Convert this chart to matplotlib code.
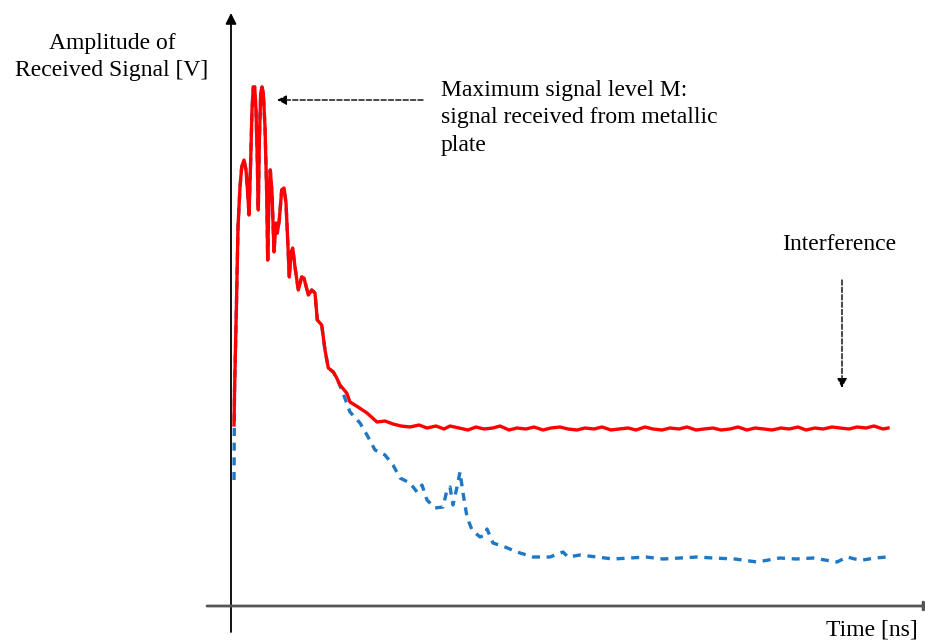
import numpy as np
import matplotlib.pyplot as plt

# Reflected signal from metallic plate (red) and signal without plate (blue dashed)
# time in ns, amplitude in V
head_t = [0.30, 0.35, 0.57, 0.70, 0.90, 1.07, 1.30, 1.50, 1.67, 1.80, 1.97, 2.10, 2.23,
          2.37, 2.50, 2.63, 2.73, 2.83, 2.97, 3.10, 3.23, 3.40, 3.57, 3.67, 3.80, 3.93,
          4.10, 4.30, 4.50, 4.63, 4.83, 5.07, 5.30, 5.50, 5.70, 5.83, 6.00, 6.17, 6.40,
          6.73, 7.07, 7.30, 7.73, 8.07, 8.40, 8.63, 9.07, 9.40, 9.73, 10.23, 10.57]
head_a = [1.81, 2.13, 3.13, 3.79, 4.19, 4.39, 4.46, 4.36, 4.13, 3.91, 4.46, 4.96, 5.19,
          5.19, 4.96, 4.46, 3.96, 4.63, 5.13, 5.19, 5.13, 4.79, 4.13, 3.46, 4.13, 4.36,
          4.13, 3.54, 3.83, 3.73, 3.86, 4.16, 4.18, 4.03, 3.59, 3.29, 3.53, 3.58, 3.39,
          3.16, 3.29, 3.28, 3.11, 3.16, 3.13, 2.86, 2.81, 2.56, 2.38, 2.34, 2.28]

red_tail_t = [10.9, 11.57, 11.9, 12.7, 13.6, 14.6, 15.4, 16.2, 17.0, 17.9, 18.8, 19.6,
              20.5, 21.3, 21.9, 22.8, 23.7, 24.5, 25.3, 26.2, 26.9, 27.8, 28.6, 29.5,
              30.3, 31.2, 32.0, 32.9, 33.7, 34.6, 35.4, 36.3, 37.1, 38.0, 38.8, 39.7,
              40.5, 41.4, 42.2, 43.1, 43.9, 44.8, 45.6, 46.5, 47.3, 48.2, 49.0, 49.9,
              50.7, 51.6, 52.4, 53.3, 54.1, 55.0, 55.8, 56.7, 57.5, 58.4, 59.2, 60.1,
              60.9, 61.8, 62.6, 63.5, 64.3, 65.2, 65.7]
red_tail_a = [2.21, 2.13, 2.04, 1.99, 1.93, 1.84, 1.85, 1.82, 1.80, 1.79, 1.81, 1.78,
              1.80, 1.77, 1.80, 1.78, 1.76, 1.79, 1.77, 1.78, 1.80, 1.76, 1.78, 1.77,
              1.79, 1.76, 1.78, 1.79, 1.77, 1.76, 1.78, 1.77, 1.79, 1.76, 1.77, 1.78,
              1.76, 1.79, 1.77, 1.76, 1.78, 1.77, 1.79, 1.76, 1.77, 1.78, 1.76, 1.77,
              1.79, 1.76, 1.78, 1.77, 1.76, 1.78, 1.77, 1.79, 1.76, 1.78, 1.77, 1.79,
              1.78, 1.77, 1.79, 1.78, 1.80, 1.77, 1.78]

blue_start_a = 1.26
blue_tail_t = [11.2, 11.9, 12.9, 13.6, 14.4, 15.4, 16.2, 16.9, 17.9, 18.6, 19.1, 19.6,
               20.4, 21.2, 21.6, 21.9, 22.2, 22.6, 22.9, 23.2, 23.6, 24.1, 24.9, 25.4,
               25.6, 26.2, 27.4, 28.6, 30.2, 31.9, 33.2, 33.7, 34.9, 36.6, 38.2, 39.9,
               41.5, 43.2, 44.9, 46.6, 48.2, 50.4, 52.6, 54.9, 56.5, 58.2, 59.4, 60.6,
               61.6, 62.4, 63.2, 64.4, 65.6]
blue_tail_a = [2.13, 1.94, 1.83, 1.71, 1.56, 1.51, 1.41, 1.28, 1.23, 1.14, 1.21, 1.06,
               0.98, 0.99, 1.16, 1.19, 1.01, 1.19, 1.34, 1.13, 0.89, 0.76, 0.69, 0.71,
               0.77, 0.63, 0.59, 0.54, 0.49, 0.49, 0.54, 0.49, 0.51, 0.49, 0.47, 0.48,
               0.49, 0.47, 0.48, 0.49, 0.48, 0.47, 0.44, 0.48, 0.47, 0.48, 0.46, 0.44,
               0.49, 0.47, 0.46, 0.48, 0.49]

red_t = head_t + red_tail_t
red_a = head_a + red_tail_a
blue_t = head_t + blue_tail_t
blue_a = [blue_start_a] + head_a[1:] + blue_tail_a

font = 'Liberation Serif'

fig = plt.figure(figsize=(9.25, 6.43), dpi=100)
ax = fig.add_axes([0, 0, 1, 1])
ax.set_xlim(-23.1, 69.4)
ax.set_ylim(-0.37, 6.06)
ax.axis('off')

ax.plot(blue_t, blue_a, color='#1f78c4', lw=2.4, linestyle=(0, (2.4, 2.0)), zorder=2)
ax.plot(red_t, red_a, color='#ff0000', lw=2.4, zorder=3, solid_joinstyle='round')

# axes drawn as arrows
ax.annotate('', xy=(0, 5.93), xytext=(0, -0.26), annotation_clip=False,
            arrowprops=dict(arrowstyle='-|>', color='black', lw=1.3,
                            mutation_scale=16, shrinkA=0, shrinkB=0))
ax.annotate('', xy=(70.3, 0), xytext=(-2.4, 0), annotation_clip=False,
            arrowprops=dict(arrowstyle='-|>', color='#555555', lw=2.0,
                            mutation_scale=14, shrinkA=0, shrinkB=0))

ax.text(-11.9, 5.49, 'Amplitude of\nReceived Signal [V]', ha='center', va='center',
        multialignment='center', fontsize=17, family=font, linespacing=1.4)
ax.text(64.1, -0.24, 'Time [ns]', ha='center', va='center', fontsize=17, family=font)
ax.text(21.0, 4.88, 'Maximum signal level M:\nsignal received from metallic\nplate',
        ha='left', va='center', fontsize=17, family=font, linespacing=1.4)
ax.text(60.8, 3.61, 'Interference', ha='center', va='center', fontsize=17, family=font)

ax.annotate('', xy=(4.6, 5.06), xytext=(19.2, 5.06),
            arrowprops=dict(arrowstyle='-|>', color='black', lw=1.0, linestyle='--',
                            mutation_scale=14, shrinkA=0, shrinkB=0))
ax.annotate('', xy=(61.1, 2.18), xytext=(61.1, 3.26),
            arrowprops=dict(arrowstyle='-|>', color='black', lw=1.0, linestyle='--',
                            mutation_scale=14, shrinkA=0, shrinkB=0))

fig.savefig('out.png', dpi=100)
